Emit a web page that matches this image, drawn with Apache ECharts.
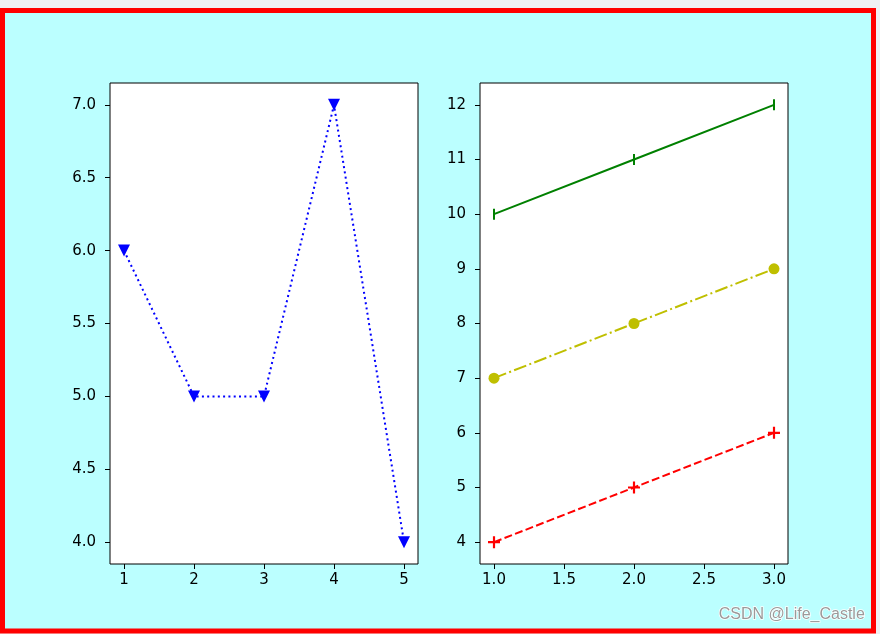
<!DOCTYPE html>
<html>
<head>
<meta charset="utf-8">
<script src="https://cdn.jsdelivr.net/npm/echarts@6/dist/echarts.min.js"></script>
<style>html,body{margin:0;padding:0;background:#f0f0f3;}#c{width:880px;height:634px;}</style>
</head>
<body>
<div id="c"></div>
<script>
// Left subplot data
var leftX = [1, 2, 3, 4, 5];
var leftY = [6, 5, 5, 7, 4];
var leftXTicks = [1, 2, 3, 4, 5];
var leftYTicks = [4.0, 4.5, 5.0, 5.5, 6.0, 6.5, 7.0];
// Right subplot data
var rightX = [1, 2, 3];
var greenY = [10, 11, 12];
var yellowY = [7, 8, 9];
var redY = [4, 5, 6];
var rightXTicks = [1.0, 1.5, 2.0, 2.5, 3.0];
var rightYTicks = [4, 5, 6, 7, 8, 9, 10, 11, 12];

function pairs(xs, ys) { return xs.map(function (x, i) { return [x, ys[i]]; }); }

var font = 'DejaVu Sans';
function axis(gi, min, max, ticks, fmt, margin) {
  return {
    type: 'value', gridIndex: gi, min: min, max: max,
    axisLine: { show: false },
    splitLine: { show: false },
    axisTick: { show: true, inside: false, length: 5, customValues: ticks, lineStyle: { color: '#000', width: 1 } },
    axisLabel: { customValues: ticks, color: '#000', fontSize: 15, fontFamily: font, margin: margin, formatter: fmt }
  };
}
var f1 = function (v) { return Number(v).toFixed(1); };
var f0 = function (v) { return String(Math.round(v)); };

var chart = echarts.init(document.getElementById('c'), null, { renderer: 'canvas' });
chart.setOption({
  backgroundColor: '#f0f0f3',
  animation: false,
  graphic: [
    { type: 'rect', z: -100, silent: true, shape: { x: 2.5, y: 10.5, width: 871, height: 620.5 },
      style: { fill: '#bbffff', stroke: '#ff0000', lineWidth: 5 } },
    { type: 'text', z: 100, left: 718, top: 606,
      style: { text: 'CSDN @Life_Castle', fill: '#9a9a9a', fontSize: 16, fontFamily: 'Liberation Sans',
               stroke: '#ffffff', lineWidth: 1.5 } }
  ],
  grid: [
    { left: 110, top: 83, width: 308, height: 481, show: true, backgroundColor: '#fff', borderColor: '#000', borderWidth: 1 },
    { left: 480, top: 83, width: 308, height: 481, show: true, backgroundColor: '#fff', borderColor: '#000', borderWidth: 1 }
  ],
  xAxis: [
    axis(0, 0.8, 5.2, leftXTicks, f0, 9),
    axis(1, 0.9, 3.1, rightXTicks, f1, 9)
  ],
  yAxis: [
    axis(0, 3.85, 7.15, leftYTicks, f1, 14),
    axis(1, 3.6, 12.4, rightYTicks, f0, 14)
  ],
  series: [
    { type: 'line', xAxisIndex: 0, yAxisIndex: 0, data: pairs(leftX, leftY),
      symbol: 'triangle', symbolRotate: 180, symbolSize: 12, showAllSymbol: true,
      itemStyle: { color: '#0000ff' },
      lineStyle: { color: '#0000ff', width: 2, type: [2, 3.3] } },
    { type: 'line', xAxisIndex: 1, yAxisIndex: 1, data: pairs(rightX, greenY),
      symbol: 'rect', symbolSize: [2, 11],
      itemStyle: { color: '#008000' },
      lineStyle: { color: '#008000', width: 2, type: 'solid' } },
    { type: 'line', xAxisIndex: 1, yAxisIndex: 1, data: pairs(rightX, yellowY),
      symbol: 'circle', symbolSize: 11,
      itemStyle: { color: '#bfbf00' },
      lineStyle: { color: '#bfbf00', width: 2, type: [13, 3.3, 2, 3.3] } },
    { type: 'line', xAxisIndex: 1, yAxisIndex: 1, data: pairs(rightX, redY),
      symbol: 'path://M4.5,0h2v11h-2z M0,4.5h11v2h-11z', symbolSize: 12,
      itemStyle: { color: '#ff0000' },
      lineStyle: { color: '#ff0000', width: 2, type: [8, 3.3] } }
  ]
});
</script>
</body>
</html>
